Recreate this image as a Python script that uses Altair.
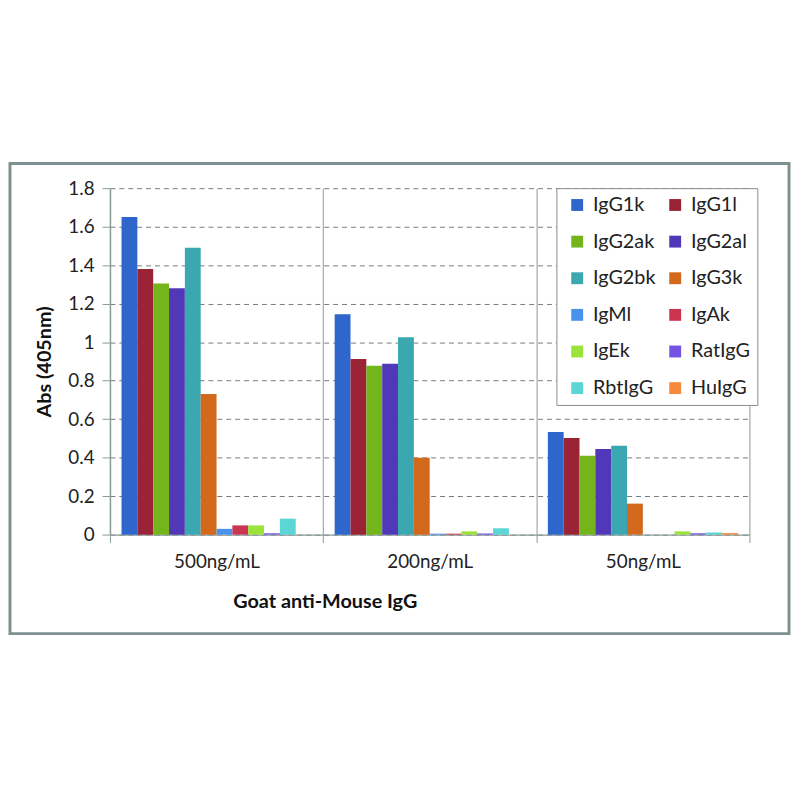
import altair as alt
import pandas as pd

categories = ["500ng/mL", "200ng/mL", "50ng/mL"]
series = ["IgG1k", "IgG1l", "IgG2ak", "IgG2al", "IgG2bk", "IgG3k",
          "IgMl", "IgAk", "IgEk", "RatIgG", "RbtIgG", "HuIgG"]
vals_500 = [1.65, 1.38, 1.305, 1.28, 1.49, 0.73, 0.03, 0.048, 0.048, 0.007, 0.083, 0.0]
vals_200 = [1.145, 0.912, 0.877, 0.888, 1.025, 0.40, 0.005, 0.005, 0.017, 0.006, 0.033, 0.0]
vals_50 = [0.533, 0.502, 0.41, 0.445, 0.462, 0.161, 0.0, 0.0, 0.017, 0.007, 0.011, 0.008]
colors = ["#2F66CC", "#9A2335", "#74B51C", "#5038B8", "#3AA7B1", "#D2691C",
          "#4A93EC", "#CA3550", "#9BE33A", "#7452E2", "#5CD5D5", "#F68A3A"]
y_ticks = [0, 0.2, 0.4, 0.6, 0.8, 1.0, 1.2, 1.4, 1.6, 1.8]

rows = []
for cat, vals in zip(categories, [vals_500, vals_200, vals_50]):
    for s, v in zip(series, vals):
        rows.append({"conc": cat, "series": s, "abs": v})
df = pd.DataFrame(rows)

AX = "#8A9A9A"
FONT = "Lato"

bars = alt.Chart(df).mark_bar().encode(
    x=alt.X("conc:N", sort=categories,
            scale=alt.Scale(paddingInner=0, paddingOuter=0),
            axis=alt.Axis(title="Goat anti-Mouse IgG", labelAngle=0, tickBand="extent",
                          grid=True, gridColor=AX, gridWidth=1, tickSize=8, tickColor=AX,
                          domainColor=AX, domainWidth=1.5, labelFontSize=19, labelPadding=10,
                          labelColor="#222222", labelFont=FONT,
                          titleFont=FONT, titleFontSize=20, titleFontWeight="bold",
                          titleColor="#111111", titleX=217, titleY=74,
                          titleAlign="center", titleBaseline="alphabetic")),
    xOffset=alt.XOffset("series:N", sort=series,
                        scale=alt.Scale(paddingInner=0, paddingOuter=0.73)),
    y=alt.Y("abs:Q", scale=alt.Scale(domain=[0, 1.8], nice=False),
            axis=alt.Axis(values=y_ticks, format=".1~f", title="Abs (405nm)",
                          tickSize=8, tickColor=AX, domainColor=AX, domainWidth=1.5,
                          gridColor="#7A7A7A", gridDash=[5, 4], gridWidth=1,
                          labelFontSize=19, labelPadding=8, labelColor="#222222",
                          labelFont=FONT, titleFont=FONT, titleFontSize=20,
                          titleFontWeight="bold", titleColor="#111111",
                          titleX=-66, titleY=175, titleAngle=270,
                          titleBaseline="middle", titleAlign="center")),
    color=alt.Color("series:N", sort=series,
                    scale=alt.Scale(domain=series, range=colors),
                    legend=alt.Legend(title=None, orient="none", legendX=451, legendY=0,
                                      columns=2, direction="horizontal",
                                      symbolType="square", symbolSize=144,
                                      symbolStrokeWidth=0, symbolOffset=4, labelOffset=6,
                                      labelFontSize=20, labelFont=FONT, labelColor="#222222",
                                      padding=7, rowPadding=17, columnPadding=5,
                                      strokeColor="#8C8C8C", fillColor="white")),
)

frame = alt.Chart(pd.DataFrame({"f": [0]})).mark_rect(
    filled=False, stroke="#7E9090", strokeWidth=3
).encode(
    x=alt.value(-101), x2=alt.value(686), y=alt.value(-25), y2=alt.value(450)
)

chart = alt.layer(frame, bars).properties(
    width=646, height=350,
    autosize=alt.AutoSizeParams(type="none"),
    padding={"left": 103, "top": 178, "right": 43, "bottom": 256},
    background="white",
).configure_view(stroke=None)

chart.save("out.html", embed_options={"renderer": "svg", "actions": False})
